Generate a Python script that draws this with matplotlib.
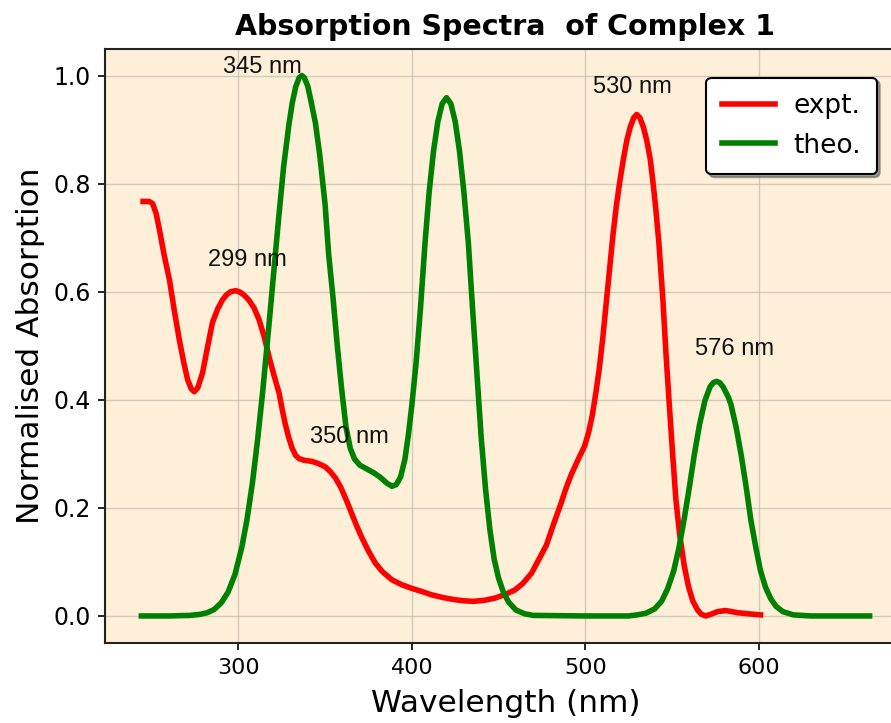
import matplotlib
matplotlib.use("Agg")
import matplotlib.pyplot as plt

# Experimental spectrum (wavelength in nm, normalised absorbance)
expt_wl = [245.0, 248.5, 250.5, 252.5, 254.4, 257.0, 260.2, 263.0, 265.9, 268.5,
           270.7, 272.8, 274.5, 276.5, 279.3, 282.0, 285.0, 288.0, 290.8, 293.0,
           295.5, 298.5, 301.0, 303.5, 306.1, 309.0, 311.9, 315.0, 317.6, 320.5,
           323.4, 325.3, 327.0, 329.0, 331.0, 333.0, 335.0, 338.0, 342.5, 346.0,
           350.0, 353.0, 356.0, 359.0, 362.0, 365.0, 368.0, 371.3, 375.0, 378.9,
           383.0, 388.5, 394.0, 400.0, 406.0, 411.5, 418.0, 424.9, 430.0, 435.5,
           442.0, 447.9, 454.0, 459.4, 464.0, 469.0, 473.0, 477.6, 482.0, 486.2,
           489.0, 492.0, 496.0, 499.6, 502.0, 504.0, 506.0, 508.0, 510.0, 512.0,
           514.0, 516.0, 518.0, 520.0, 522.0, 524.0, 526.0, 528.0, 529.7, 531.5,
           533.5, 535.5, 537.5, 539.0, 540.5, 542.5, 544.8, 546.5, 548.3, 550.3,
           552.3, 554.5, 557.0, 559.5, 562.0, 564.8, 567.0, 569.5, 572.5, 576.3,
           581.0, 584.5, 587.8, 594.0, 601.1]
expt_abs = [0.767, 0.767, 0.763, 0.745, 0.715, 0.670, 0.622, 0.565, 0.511, 0.468,
            0.437, 0.420, 0.415, 0.422, 0.450, 0.495, 0.543, 0.568, 0.585, 0.594,
            0.600, 0.602, 0.599, 0.593, 0.584, 0.570, 0.548, 0.515, 0.480, 0.445,
            0.413, 0.381, 0.355, 0.330, 0.310, 0.297, 0.291, 0.288, 0.286, 0.282,
            0.276, 0.267, 0.255, 0.238, 0.216, 0.192, 0.168, 0.144, 0.120, 0.098,
            0.082, 0.067, 0.058, 0.051, 0.045, 0.039, 0.034, 0.030, 0.028, 0.027,
            0.029, 0.033, 0.040, 0.048, 0.060, 0.079, 0.103, 0.131, 0.172, 0.210,
            0.237, 0.262, 0.290, 0.314, 0.340, 0.370, 0.410, 0.455, 0.510, 0.575,
            0.640, 0.705, 0.760, 0.805, 0.845, 0.880, 0.905, 0.922, 0.928, 0.922,
            0.905, 0.880, 0.845, 0.805, 0.760, 0.690, 0.585, 0.490, 0.400, 0.305,
            0.215, 0.150, 0.095, 0.055, 0.028, 0.011, 0.003, 0.000, 0.003, 0.008,
            0.010, 0.008, 0.006, 0.004, 0.002]

# Theoretical (broadened) spectrum
theo_wl = [244.0, 260.0, 272.0, 278.0, 282.0, 286.0, 290.0, 294.0, 298.0, 302.0,
           305.0, 308.0, 311.0, 314.0, 317.0, 320.0, 323.0, 326.0, 329.0, 331.0,
           333.0, 335.0, 336.5, 338.0, 340.0, 342.0, 344.4, 347.0, 350.0, 352.0,
           354.5, 357.0, 359.5, 362.0, 364.5, 367.0, 370.0, 374.0, 378.0, 382.0,
           385.5, 388.5, 391.0, 393.5, 396.0, 398.0, 400.0, 402.5, 405.0, 407.6,
           410.0, 412.5, 415.0, 417.5, 420.0, 422.5, 425.0, 427.5, 430.0, 432.6,
           435.0, 437.5, 440.0, 442.5, 445.0, 447.5, 450.0, 453.0, 456.0, 460.0,
           465.0, 470.0, 500.0, 525.0, 530.0, 535.0, 540.0, 544.0, 547.5, 551.0,
           554.0, 557.0, 560.0, 563.0, 566.0, 569.0, 572.0, 574.0, 575.7, 577.5,
           579.5, 582.5, 584.0, 587.0, 590.0, 593.0, 595.5, 598.5, 601.0, 604.0,
           607.0, 610.0, 614.0, 620.0, 630.0, 664.0]
theo_abs = [0.000, 0.000, 0.001, 0.003, 0.006, 0.012, 0.024, 0.044, 0.077, 0.128,
            0.180, 0.245, 0.325, 0.416, 0.518, 0.624, 0.730, 0.830, 0.907, 0.949,
            0.979, 0.996, 1.000, 0.996, 0.980, 0.950, 0.912, 0.850, 0.760, 0.670,
            0.590, 0.500, 0.420, 0.350, 0.310, 0.290, 0.279, 0.272, 0.265, 0.256,
            0.246, 0.240, 0.243, 0.257, 0.290, 0.335, 0.390, 0.470, 0.570, 0.690,
            0.785, 0.860, 0.915, 0.948, 0.959, 0.948, 0.915, 0.860, 0.785, 0.690,
            0.570, 0.450, 0.330, 0.235, 0.160, 0.105, 0.070, 0.042, 0.025, 0.011,
            0.004, 0.001, 0.000, 0.000, 0.002, 0.005, 0.013, 0.027, 0.050, 0.083,
            0.125, 0.178, 0.237, 0.300, 0.355, 0.398, 0.424, 0.432, 0.434, 0.432,
            0.424, 0.405, 0.392, 0.350, 0.297, 0.235, 0.178, 0.125, 0.085, 0.053,
            0.032, 0.018, 0.008, 0.002, 0.000, 0.000]

# Band labels: text, x position, y position
band_labels = ["345 nm", "299 nm", "350 nm", "530 nm", "576 nm"]
band_x = [313.8, 304.9, 363.8, 527.0, 586.2]
band_y = [1.015, 0.659, 0.331, 0.978, 0.494]

x_ticks = [300, 400, 500, 600]
y_ticks = [0.0, 0.2, 0.4, 0.6, 0.8, 1.0]

plt.rcParams['font.family'] = ['DejaVu Sans']

fig = plt.figure(figsize=(8.91, 7.23), dpi=100)
ax = fig.add_axes([0.1178, 0.1107, 0.899, 0.8222])
ax.set_facecolor('#fdefd8')

ax.plot(expt_wl, expt_abs, color='red', lw=4, label='expt.', zorder=3,
        solid_joinstyle='round')
ax.plot(theo_wl, theo_abs, color='green', lw=4, label='theo.', zorder=3,
        solid_joinstyle='round')

for txt, x, y in zip(band_labels, band_x, band_y):
    ax.text(x, y, txt, ha='center', va='center', fontsize=17,
            family=['Liberation Sans', 'DejaVu Sans'], color='#111111', zorder=4)

ax.set_xticks(x_ticks)
ax.set_yticks(y_ticks)
ax.set_yticklabels([f"{v:.1f}" for v in y_ticks])
ax.tick_params(length=5, width=1.2, direction='out')
ax.tick_params(axis='x', labelsize=16, pad=6)
ax.tick_params(axis='y', labelsize=17, pad=5)
ax.grid(True, color='#b9b2a6', alpha=0.6, lw=1)
ax.set_axisbelow(True)
for sp in ax.spines.values():
    sp.set_linewidth(1.5)
    sp.set_color('#222222')

ax.set_xlabel('Wavelength (nm)', fontsize=22.5, labelpad=8)
ax.set_ylabel('Normalised Absorption', fontsize=22.5, labelpad=6)
ax.set_title('Absorption Spectra  of Complex 1', fontsize=20.5, fontweight='bold', pad=10)

leg = ax.legend(loc='upper right', fontsize=19, shadow=True, fancybox=True,
                framealpha=1, edgecolor='black', borderaxespad=1.1,
                borderpad=0.6, handlelength=2.0, handletextpad=0.7)
leg.get_frame().set_linewidth(1.5)

fig.savefig('out.png', dpi=100)
